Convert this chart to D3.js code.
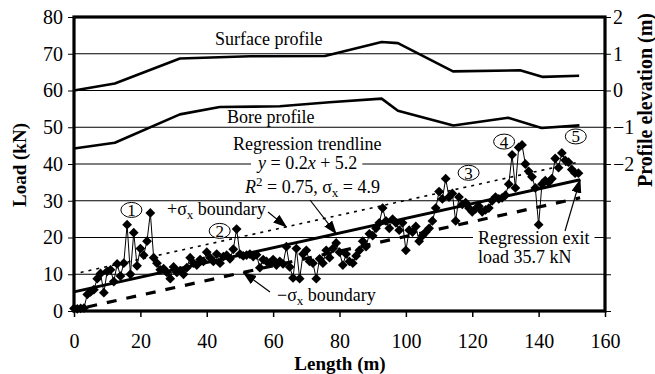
<!DOCTYPE html>
<html><head><meta charset="utf-8">
<script src="https://cdn.jsdelivr.net/npm/d3@7"></script>
<style>
html,body{margin:0;padding:0;background:#fff;}
svg{display:block;}
svg text{font-family:"Liberation Serif","Times New Roman",serif !important;}
</style></head><body>
<svg id="chart" width="655" height="374"></svg>
<script>
// Measured pull load along the bore
const lengths = [0,1,2,3,4,5,6,7,8,9,10,11,12,13,14,15,16,17,18,19,20,21,22,23,24,25,26,27,28,29,
  30,31,32,33,34,35,36,37,38,39,40,41,42,43,44,45,46,47,48,49,50,51,52,53,54,55,56,57,58,59,
  60,61,62,63,64,65,66,67,68,69,70,71,72,73,74,75,76,77,78,79,80,81,82,83,84,85,86,87,88,89,
  90,91,92,93,94,95,96,97,98,99,100,101,102,103,104,105,106,107,108,109,110,111,112,113,114,115,116,117,118,119,
  120,121,122,123,124,125,126,127,128,129,130,131,132,133,134,135,136,137,138,139,140,141,142,143,144,145,146,147,148,149,
  150,151,152];
const loads = [0.7,0.6,0.7,0.8,4.5,5.2,5.8,8.8,10.2,5.0,10.8,11.2,8.0,12.8,9.5,13.0,23.5,10.0,21.3,12.3,
  17.0,15.2,19.0,26.7,14.5,13.0,11.2,11.5,10.5,8.8,12.0,10.5,11.0,10.0,11.8,14.5,13.0,12.5,14.0,13.5,
  16.0,14.5,13.5,15.5,13.0,14.8,15.2,14.2,16.8,22.3,15.5,15.0,15.2,15.5,14.8,15.3,11.8,14.0,13.5,13.0,
  14.0,12.5,13.5,12.8,17.5,12.0,9.0,17.0,8.8,15.5,16.5,13.5,13.0,8.8,14.2,13.0,16.5,14.5,17.0,18.5,
  16.0,12.5,15.5,13.5,13.0,15.0,16.5,19.0,17.5,21.0,20.5,22.5,24.0,28.0,24.5,22.5,25.0,24.0,22.0,24.0,
  16.5,22.0,21.5,23.0,19.0,20.5,21.5,22.5,24.5,28.0,32.5,30.5,36.0,31.0,32.0,24.5,31.0,29.0,29.5,28.0,
  27.0,27.8,28.5,27.0,27.5,28.0,30.0,31.0,30.5,30.8,31.5,34.5,42.5,33.5,44.5,45.2,40.0,38.0,36.5,33.5,
  23.5,34.5,35.5,35.0,36.0,41.5,39.0,43.0,41.0,40.5,38.5,37.5,37.5];

// Ground surface and bore path elevations
const surfaceLength = [0, 12.3, 31.9, 53, 75.6, 92.7, 97.6, 114.2, 134.4, 141.3, 152.2];
const surfaceElev   = [0, 0.19, 0.87, 0.93, 0.94, 1.32, 1.29, 0.52, 0.55, 0.37, 0.40];
const boreLength = [0, 12.3, 31.9, 43.9, 62, 77, 92.7, 97.6, 114.3, 130.8, 140.9, 152.3];
const boreElev   = [-1.58, -1.42, -0.65, -0.45, -0.43, -0.32, -0.22, -0.55, -0.95, -0.74, -1.02, -0.95];

// Linear regression of load on length
const regSlope = 0.2, regIntercept = 5.2, regR2 = 0.75, sigmaX = 4.9;
const regExtent = [0, 152.5];
const upperExtent = [2, 152.5];
const lowerExtent = [4, 152.5];

// Event markers along the bore
const eventIds = ["1", "2", "3", "4", "5"];
const eventLength = [17.3, 43.9, 118.9, 129.6, 151.2];
const eventLoad = [27.5, 21.8, 37.6, 46.1, 47.5];

// Axis ticks
const loadTicks = [0, 10, 20, 30, 40, 50, 60, 70, 80];
const lengthTicks = [0, 20, 40, 60, 80, 100, 120, 140, 160];
const elevTicks = [-6, -5, -4, -3, -2, -1, 0, 1, 2];
const elevLabelled = [-2, -1, 0, 1, 2];

const svg = d3.select("#chart");
const m = {left: 74, right: 605, top: 17, bottom: 311};
const x = d3.scaleLinear().domain([0, 160]).range([m.left, m.right]);
const y = d3.scaleLinear().domain([0, 80]).range([m.bottom, m.top]);
const yElev = d3.scaleLinear().domain([-6, 2]).range([m.bottom, m.top]);

const defs = svg.append("defs");
defs.append("marker").attr("id", "arrow")
  .attr("viewBox", "0 0 14 10").attr("refX", 13).attr("refY", 5)
  .attr("markerWidth", 14).attr("markerHeight", 10)
  .attr("markerUnits", "userSpaceOnUse").attr("orient", "auto")
  .append("path").attr("d", "M0,0 L14,5 L0,10 Z").attr("fill", "#000");

// Horizontal gridlines
svg.append("g").selectAll("line")
  .data(loadTicks.filter(t => t > 0 && t < 80)).join("line")
  .attr("x1", m.left).attr("x2", m.right)
  .attr("y1", d => y(d)).attr("y2", d => y(d))
  .attr("stroke", "#000").attr("stroke-width", 1);

// Profiles on the elevation scale
const profLine = d3.line().x(d => x(d[0])).y(d => yElev(d[1]));
svg.append("path").datum(d3.zip(surfaceLength, surfaceElev))
  .attr("d", profLine).attr("fill", "none").attr("stroke", "#000").attr("stroke-width", 2.6)
  .attr("stroke-linejoin", "round");
svg.append("path").datum(d3.zip(boreLength, boreElev))
  .attr("d", profLine).attr("fill", "none").attr("stroke", "#000").attr("stroke-width", 2.6)
  .attr("stroke-linejoin", "round");

// Text helper with white backing where it crosses gridlines
const annot = svg.append("g").attr("font-size", 18).attr("fill", "#000");
function label(px, py, parts, opts = {}) {
  const t = annot.append("text").attr("x", px).attr("y", py)
    .attr("text-anchor", opts.anchor || "start");
  parts.forEach(p => {
    const ts = t.append("tspan").text(p.t);
    if (p.italic) ts.attr("font-style", "italic");
    if (p.sub) ts.attr("font-size", 13).attr("dy", 4);
    if (p.sup) ts.attr("font-size", 13).attr("dy", -7);
    if (p.back) ts.attr("dy", p.back);
  });
  if (opts.backing) {
    const b = t.node().getBBox();
    annot.insert("rect", () => t.node())
      .attr("x", b.x - 5).attr("y", b.y + 3).attr("width", b.width + 10).attr("height", b.height - 6)
      .attr("fill", "#fff");
  }
  return t;
}

label(215, 45, [{t: "Surface profile"}]);
label(227, 123, [{t: "Bore profile"}]);
label(233, 150, [{t: "Regression trendline"}]);
label(258, 169, [{t: "y", italic: true}, {t: " = " + regSlope + ""}, {t: "x", italic: true},
  {t: " + " + regIntercept}], {backing: true});
label(245, 193, [{t: "R", italic: true}, {t: "2", sup: true}, {t: " = " + regR2.toFixed(2) + ", σ", back: 7},
  {t: "x", sub: true}, {t: " = " + sigmaX, back: -4}]);
label(167, 215, [{t: "+σ"}, {t: "x", sub: true}, {t: " boundary", back: -4}]);
label(277, 301, [{t: "−σ"}, {t: "x", sub: true}, {t: " boundary", back: -4}]);
const exitLoad = regSlope * regExtent[1] + regIntercept;
label(478, 244, [{t: "Regression exit"}], {backing: true});
label(478, 263, [{t: "load " + exitLoad.toFixed(1) + " kN"}]);

// Regression line and ±σ boundaries
const fit = (a, off) => [[a[0], regSlope * a[0] + regIntercept + off], [a[1], regSlope * a[1] + regIntercept + off]];
const ln = d3.line().x(d => x(d[0])).y(d => y(d[1]));
svg.append("path").attr("d", ln(fit(upperExtent, sigmaX)))
  .attr("fill", "none").attr("stroke", "#000").attr("stroke-width", 1.6).attr("stroke-dasharray", "3,5");
svg.append("path").attr("d", ln(fit(lowerExtent, -sigmaX)))
  .attr("fill", "none").attr("stroke", "#000").attr("stroke-width", 3.2).attr("stroke-dasharray", "10,10");

// Measured load series
const pts = d3.zip(lengths, loads);
svg.append("path").datum(pts).attr("d", ln)
  .attr("fill", "none").attr("stroke", "#000").attr("stroke-width", 1);
svg.append("g").selectAll("path").data(pts).join("path")
  .attr("d", d3.symbol(d3.symbolSquare, 48)())
  .attr("transform", d => `translate(${x(d[0])},${y(d[1])}) rotate(45)`)
  .attr("fill", "#000");

svg.append("path").attr("d", ln(fit(regExtent, 0)))
  .attr("fill", "none").attr("stroke", "#000").attr("stroke-width", 3);

// Event circles
const ev = svg.append("g");
eventIds.forEach((id, i) => {
  const cx = x(eventLength[i]), cy = y(eventLoad[i]);
  ev.append("ellipse").attr("cx", cx).attr("cy", cy).attr("rx", 10.5).attr("ry", 7.5)
    .attr("fill", "#fff").attr("stroke", "#000").attr("stroke-width", 1);
  ev.append("text").attr("x", cx).attr("y", cy + 6).attr("text-anchor", "middle")
    .attr("font-size", 17).text(id);
});

// Leader arrows
const arrows = svg.append("g").attr("stroke", "#000").attr("stroke-width", 1.2).attr("marker-end", "url(#arrow)");
const arrowFrom = [[268, 212], [310, 200], [270, 292], [565, 231]];
const arrowTo = [
  [x(64), y(regSlope * 64 + regIntercept + sigmaX)],
  [x(79), y(regSlope * 79 + regIntercept)],
  [x(51), y(regSlope * 51 + regIntercept - sigmaX)],
  [x(regExtent[1]), y(exitLoad)]
];
arrowFrom.forEach((f, i) => {
  arrows.append("line").attr("x1", f[0]).attr("y1", f[1]).attr("x2", arrowTo[i][0]).attr("y2", arrowTo[i][1]);
});

// Axes
const tickFont = g => g.attr("font-size", 20);
svg.append("g").attr("transform", `translate(${m.left},0)`)
  .call(d3.axisLeft(y).tickValues(loadTicks).tickSize(6).tickPadding(5))
  .call(tickFont).call(g => g.select(".domain").remove())
  .call(g => g.selectAll(".tick line").attr("stroke-width", 1));
svg.append("g").attr("transform", `translate(0,${m.bottom})`)
  .call(d3.axisBottom(x).tickValues(lengthTicks).tickSize(6).tickPadding(17))
  .call(tickFont).call(g => g.select(".domain").remove())
  .call(g => g.selectAll(".tick line").attr("stroke-width", 1.5));
svg.append("g").attr("transform", `translate(${m.right},0)`)
  .call(d3.axisRight(yElev).tickValues(elevTicks).tickSize(6).tickPadding(2)
    .tickFormat(d => elevLabelled.includes(d) ? d3.format("d")(d) : ""))
  .call(tickFont).call(g => g.select(".domain").remove())
  .call(g => g.selectAll(".tick line").attr("stroke-width", 1));

// Plot frame
svg.append("rect").attr("x", m.left).attr("y", m.top)
  .attr("width", m.right - m.left).attr("height", m.bottom - m.top)
  .attr("fill", "none").attr("stroke", "#000").attr("stroke-width", 3.2);

// Axis titles
const title = svg.append("g").attr("font-weight", "bold").attr("font-size", 19).attr("text-anchor", "middle");
title.append("text").attr("x", 340).attr("y", 370).text("Length (m)");
title.append("text").attr("transform", "translate(26,165) rotate(-90)").text("Load (kN)");
title.append("text").attr("transform", "translate(652,100) rotate(-90)").attr("font-size", 20).text("Profile elevation (m)");
</script>
</body></html>
